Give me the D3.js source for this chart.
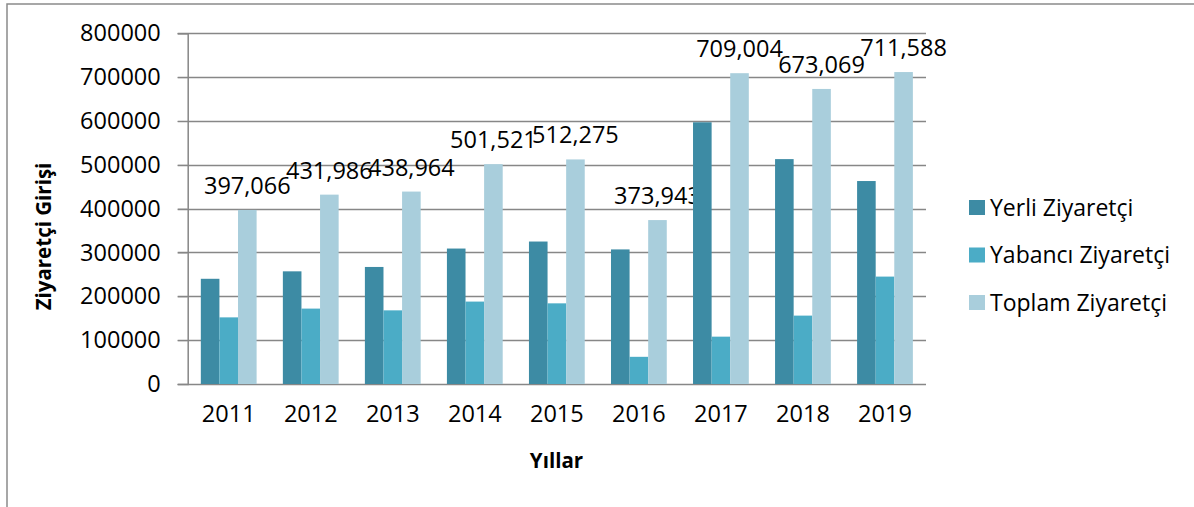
<!DOCTYPE html>
<html>
<head>
<meta charset="utf-8">
<script src="https://cdnjs.cloudflare.com/ajax/libs/d3/7.8.5/d3.min.js"></script>
<style>
  html, body { margin: 0; padding: 0; background: #fff; }
  svg { display: block; }
</style>
</head>
<body>
<svg id="chart" width="1194" height="507"></svg>
<script>
// veriler
var yillar = ['2011', '2012', '2013', '2014', '2015', '2016', '2017', '2018', '2019'];
var seriAdlari = ['Yerli Ziyaretçi', 'Yabancı Ziyaretçi', 'Toplam Ziyaretçi'];
var yerli = [240000, 257000, 267000, 309000, 325000, 307000, 597000, 513000, 463000];
var yabanci = [152000, 172000, 168000, 188000, 184000, 62000, 108000, 156000, 245000];
var toplam = [397066, 431986, 438964, 501521, 512275, 373943, 709004, 673069, 711588];
var yTicks = [0, 100000, 200000, 300000, 400000, 500000, 600000, 700000, 800000];

var renkler = ['#3d8ba4', '#4bacc6', '#a9cedc'];
var fontAdi = '"Open Sans", sans-serif';

var svg = d3.select('#chart');

// dis cerceve
svg.append('rect')
    .attr('x', 7)
    .attr('y', 4)
    .attr('width', 1400)
    .attr('height', 700)
    .style('fill', 'none')
    .style('stroke', '#8a8a8a')
    .style('stroke-width', 1.5);

var sol = 187.7, sag = 926, ust = 33.3, alt = 384;

var x0 = d3.scaleBand()
    .domain(yillar)
    .range([sol, sag])
    .paddingInner(0.32)
    .paddingOuter(0.16);

var x1 = d3.scaleBand()
    .domain(seriAdlari)
    .range([0, x0.bandwidth()]);

var y = d3.scaleLinear()
    .domain([0, 800000])
    .range([alt, ust]);

// izgara cizgileri
svg.append('g')
    .selectAll('line')
    .data(yTicks)
    .enter()
    .append('line')
    .attr('x1', sol - 10)
    .attr('x2', sag)
    .attr('y1', function (d) { return Math.round(y(d)) + 0.5; })
    .attr('y2', function (d) { return Math.round(y(d)) + 0.5; })
    .style('stroke', '#878787')
    .style('stroke-width', 1.3);

// y ekseni
var yEkseni = svg.append('g')
    .attr('transform', 'translate(' + sol + ',0)')
    .call(d3.axisLeft(y).tickValues(yTicks).tickFormat(d3.format('d')).tickSize(10).tickPadding(17));
yEkseni.select('.domain').style('stroke', '#878787').style('stroke-width', 1.5);
yEkseni.selectAll('.tick line').style('stroke', '#878787');
yEkseni.selectAll('text')
    .style('font-family', fontAdi)
    .style('font-size', '23.5px')
    .style('fill', '#000');

// x ekseni
var xEkseni = svg.append('g')
    .attr('transform', 'translate(0,' + alt + ')')
    .call(d3.axisBottom(x0).tickSize(0).tickPadding(21));
xEkseni.select('.domain').remove();
xEkseni.selectAll('text')
    .style('font-family', fontAdi)
    .style('font-size', '23.5px')
    .style('fill', '#000');

// cubuklar
var satirlar = yillar.map(function (yil, i) {
    return { yil: yil, degerler: [yerli[i], yabanci[i], toplam[i]] };
});

var gruplar = svg.append('g')
    .selectAll('g')
    .data(satirlar)
    .enter()
    .append('g')
    .attr('transform', function (d) { return 'translate(' + x0(d.yil) + ',0)'; });

gruplar.selectAll('rect')
    .data(function (d) {
        return d.degerler.map(function (v, j) { return { seri: seriAdlari[j], deger: v, j: j }; });
    })
    .enter()
    .append('rect')
    .attr('x', function (d) { return x1(d.seri); })
    .attr('y', function (d) { return y(d.deger); })
    .attr('width', x1.bandwidth())
    .attr('height', function (d) { return alt - y(d.deger); })
    .style('fill', function (d) { return renkler[d.j]; });

// toplam etiketleri
gruplar.append('text')
    .attr('x', function () { return x1(seriAdlari[2]) + x1.bandwidth() / 2; })
    .attr('y', function (d) { return y(d.degerler[2]) - 16; })
    .attr('text-anchor', 'middle')
    .text(function (d) { return d3.format(',')(d.degerler[2]); })
    .style('font-family', fontAdi)
    .style('font-size', '23.5px')
    .style('fill', '#000');

// eksen basliklari
svg.append('text')
    .attr('transform', 'translate(51,236.5) rotate(-90)')
    .attr('text-anchor', 'middle')
    .text('Ziyaretçi Girişi')
    .style('font-family', fontAdi)
    .style('font-weight', 'bold')
    .style('font-size', '20.5px')
    .style('fill', '#000');

svg.append('text')
    .attr('x', 556.5)
    .attr('y', 468)
    .attr('text-anchor', 'middle')
    .text('Yıllar')
    .style('font-family', fontAdi)
    .style('font-weight', 'bold')
    .style('font-size', '20.5px')
    .style('fill', '#000');

// lejant
var lejant = svg.append('g')
    .selectAll('g')
    .data(seriAdlari)
    .enter()
    .append('g')
    .attr('transform', function (d, i) { return 'translate(969,' + (200 + i * 47.5) + ')'; });

lejant.append('rect')
    .attr('width', 16)
    .attr('height', 15)
    .style('fill', function (d, i) { return renkler[i]; });

lejant.append('text')
    .attr('x', 21)
    .attr('y', 15.5)
    .text(function (d) { return d; })
    .style('font-family', fontAdi)
    .style('font-size', '23px')
    .style('fill', '#000');
</script>
</body>
</html>
